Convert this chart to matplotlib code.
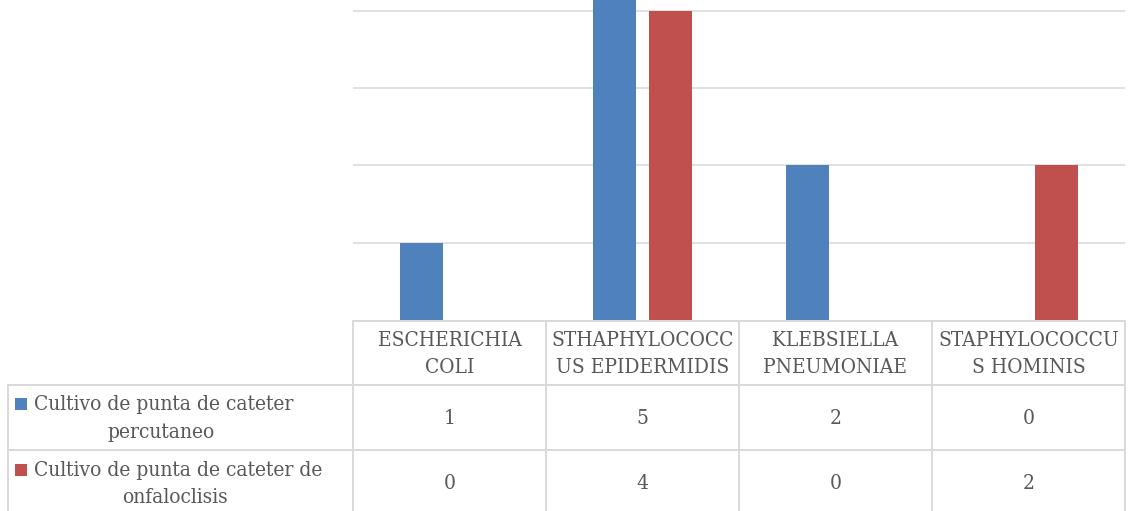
import numpy as np
import matplotlib
matplotlib.use("Agg")
import matplotlib.pyplot as plt
from matplotlib.lines import Line2D
from matplotlib.patches import Rectangle
from matplotlib.transforms import blended_transform_factory

# ---- data -------------------------------------------------------------
categories = ["ESCHERICHIA\nCOLI", "STHAPHYLOCOCC\nUS EPIDERMIDIS",
              "KLEBSIELLA\nPNEUMONIAE", "STAPHYLOCOCCU\nS HOMINIS"]
series_names = [("Cultivo de punta de cateter", "percutaneo"),
                ("Cultivo de punta de cateter de", "onfaloclisis")]
percutaneo = [1, 5, 2, 0]
onfaloclisis = [0, 4, 0, 2]
series_values = [percutaneo, onfaloclisis]
series_colors = ["#4F81BD", "#C0504D"]
y_ticks = [1, 2, 3, 4, 5, 6]

# ---- style ------------------------------------------------------------
W, H = 1128, 511
TEXT = "#595959"
GRID = "#D9D9D9"
FS = 15
plt.rcParams["font.family"] = ["DejaVu Serif"]
plt.rcParams["font.stretch"] = "condensed"

fig = plt.figure(figsize=(W / 100, H / 100), dpi=100)
fig.patch.set_facecolor("white")

def fy(py):
    """pixel row (from top) -> figure fraction"""
    return 1 - py / H

def fx(px):
    return px / W

ax_left, ax_right = 353, 1125
base_px, unit_px = 319.5, 77
ymax = 6
ax = fig.add_axes([fx(ax_left), fy(base_px), fx(ax_right - ax_left),
                   ymax * unit_px / H])
ax.set_xlim(-0.5, len(categories) - 0.5)
ax.set_ylim(0, ymax)
for s in ax.spines.values():
    s.set_visible(False)
ax.set_xticks([])
ax.set_yticks(y_ticks)
ax.tick_params(left=False, labelleft=False)
ax.yaxis.grid(True, color=GRID, linewidth=1.1)
ax.set_axisbelow(True)

x = np.arange(len(categories))
bw, off = 0.223, 0.145
for i, (vals, col) in enumerate(zip(series_values, series_colors)):
    ax.bar(x + (i * 2 - 1) * off, vals, width=bw, color=col,
           edgecolor="none", zorder=2)

# ---- data table below the plot ----------------------------------------
tx = blended_transform_factory(ax.transData, fig.transFigure)
edges = np.arange(len(categories) + 1) - 0.5
top_px, r1_px, r2_px, bot_px = 320.5, 385, 450, 516
left_px = 7.5
lw = 1.4

# horizontal lines
fig.add_artist(Line2D([edges[0], edges[-1]], [fy(top_px)] * 2,
                      transform=tx, color=GRID, lw=lw))
for py in (r1_px, r2_px, bot_px):
    fig.add_artist(Line2D([fx(left_px), fx(ax_right)], [fy(py)] * 2,
                          transform=fig.transFigure, color=GRID, lw=lw))
# vertical lines
for e in edges:
    fig.add_artist(Line2D([e, e], [fy(top_px), fy(bot_px)],
                          transform=tx, color=GRID, lw=lw))
fig.add_artist(Line2D([fx(left_px)] * 2, [fy(r1_px), fy(bot_px)],
                      transform=fig.transFigure, color=GRID, lw=lw))

# header row
for xi, lab in zip(x, categories):
    l1, l2 = lab.split("\n")
    ax.text(xi, fy(340), l1, transform=tx, ha="center", va="center",
            fontsize=FS, color=TEXT, clip_on=False)
    ax.text(xi, fy(367), l2, transform=tx, ha="center", va="center",
            fontsize=FS, color=TEXT, clip_on=False)

# value rows with legend keys
row_centers = [418, 483]
line_pos = [(404, 432, 161), (470, 497, 175)]
for (name1, name2), vals, col, yc, (y1, y2, cx2) in zip(
        series_names, series_values, series_colors, row_centers, line_pos):
    fig.add_artist(Rectangle((fx(15), fy(y1 + 6)), fx(12), 12 / H,
                             transform=fig.transFigure, facecolor=col,
                             edgecolor="none"))
    fig.text(fx(34), fy(y1), name1, ha="left", va="center",
             fontsize=FS, color=TEXT)
    fig.text(fx(cx2), fy(y2), name2, ha="center", va="center",
             fontsize=FS, color=TEXT)
    for xi, v in zip(x, vals):
        ax.text(xi, fy(yc), str(v), transform=tx, ha="center",
                va="center", fontsize=FS, color=TEXT, clip_on=False)

fig.savefig("out.png", dpi=100, facecolor="white")
